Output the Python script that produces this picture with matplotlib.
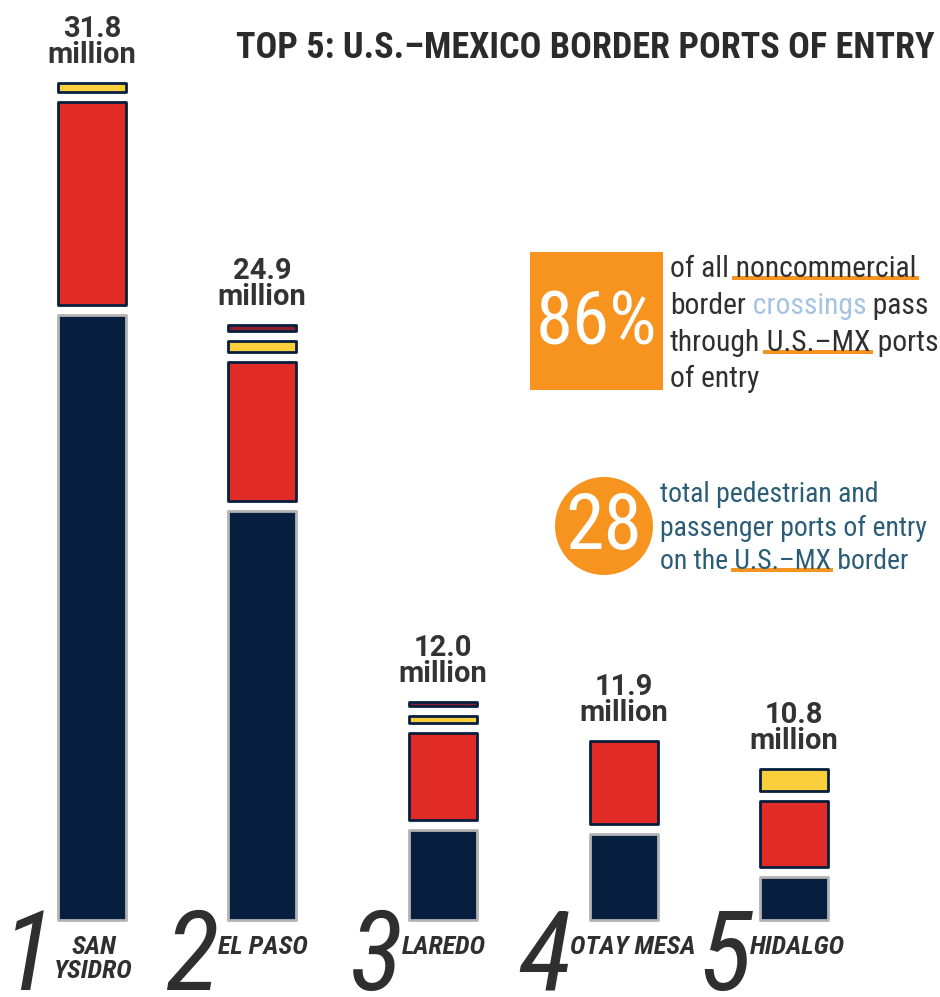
import matplotlib
matplotlib.use("Agg")
import matplotlib.pyplot as plt
from matplotlib.patches import Rectangle, Circle

# top 5 ports, values in millions (segments)
ports = ["SAN\nYSIDRO", "EL PASO", "LAREDO", "OTAY MESA", "HIDALGO"]
ranks = ["1", "2", "3", "4", "5"]
totals = ["31.8", "24.9", "12.0", "11.9", "10.8"]
vehicle = [22.9, 15.5, 3.4, 3.26, 1.63]
pedestrian = [7.7, 5.27, 3.3, 3.15, 2.5]
bus = [0.34, 0.42, 0.27, 0.0, 0.83]
train = [0.0, 0.22, 0.16, 0.0, 0.0]

# layout: bar centres and rank digit centres in pixels
xpos = [92, 262, 442.5, 624, 794]
rank_x = [29, 193, 377, 545, 725]

NAVY = "#071f3e"
RED = "#e02b27"
YELLOW = "#f9cf3b"
DARKRED = "#8e1d2e"
ORANGE = "#f7941f"
DARK = "#2f2f2f"
TEAL = "#2b5e76"
LIGHTBLUE = "#a6c3e2"
NARROW = ["Liberation Sans Narrow", "Roboto Condensed", "Open Sans Condensed",
          "DejaVu Sans Condensed", "Roboto", "DejaVu Sans"]

PX = 26.4          # pixels per million on the y axis
GAP = 10 / PX      # gap between stacked pieces

fig = plt.figure(figsize=(9.4, 9.97), dpi=100)
ax = fig.add_axes([0, 0, 1, 1])
ax.set_xlim(0, 940)
ax.set_ylim(-77 / PX, 920 / PX)
ax.axis("off")

# overlay in pixel coordinates for the callouts
ov = fig.add_axes([0, 0, 1, 1])
ov.set_xlim(0, 940)
ov.set_ylim(997, 0)
ov.axis("off")

series = [(vehicle, NAVY, "#b3b3b3"), (pedestrian, RED, NAVY),
          (bus, YELLOW, NAVY), (train, DARKRED, NAVY)]

for i in range(len(ports)):
    x = xpos[i]
    bottom = 0
    for vals, fc, ec in series:
        v = vals[i]
        if v <= 0:
            continue
        ax.bar(x, v, bottom=bottom, width=68, color=fc, edgecolor=ec,
               linewidth=2.0, joinstyle="round")
        bottom += v + GAP
    top = bottom - GAP
    ax.text(x, top + 14 / PX, totals[i] + "\nmillion", ha="center", va="bottom",
            fontsize=21, fontweight="bold", family="Roboto", color="#333333",
            linespacing=0.9)

    d = ax.text(rank_x[i], -70 / PX, ranks[i], ha="center", va="baseline",
                fontsize=80, style="italic", family=NARROW, color=DARK)
    ax.annotate(ports[i], xy=(1, -15 / PX), xycoords=(d, "data"),
                xytext=(-1, 0), textcoords="offset points",
                ha="left", va="top", multialignment="center",
                fontsize=19, fontweight="bold", style="italic",
                family=NARROW, color=DARK, linespacing=1.0)

ov.text(935, 58, "TOP 5: U.S.\u2013MEXICO BORDER PORTS OF ENTRY", ha="right",
        va="baseline", fontsize=26, fontweight="bold", family=NARROW, color="#2b2b2b")

# 86% callout
ov.add_patch(Rectangle((530, 252), 133, 138, color=ORANGE, lw=0))
ov.text(597, 324, "86%", ha="center", va="center", color="white",
        fontsize=54, family=NARROW)

# 28 callout
ov.add_patch(Circle((604, 526), 49, color=ORANGE, lw=0))
ov.text(604, 527, "28", ha="center", va="center", color="white",
        fontsize=56, family=NARROW)

underlined = []


def text_line(x, y, pieces, size, default):
    prev = None
    for s, col, ul in pieces:
        col = col or default
        if prev is None:
            t = ov.text(x, y, s, ha="left", va="baseline", fontsize=size,
                        family=NARROW, color=col, zorder=3)
        else:
            t = ov.annotate(s, xy=(1, 0), xycoords=prev, ha="left", va="bottom",
                            fontsize=size, family=NARROW, color=col, zorder=3)
        if ul:
            underlined.append(t)
        prev = t


text_line(670, 277, [("of all", None, False), (" noncommercial", None, True)], 21.3, DARK)
text_line(670, 314, [("border", None, False), (" crossings", LIGHTBLUE, False),
                     (" pass", None, False)], 21.3, DARK)
text_line(670, 351, [("through", None, False), (" U.S.\u2013MX", None, True),
                     (" ports", None, False)], 21.3, DARK)
text_line(670, 387, [("of entry", None, False)], 21.3, DARK)

text_line(660, 502, [("total pedestrian and", None, False)], 20, TEAL)
text_line(660, 536, [("passenger ports of entry", None, False)], 20, TEAL)
text_line(660, 569, [("on the", None, False), (" U.S.\u2013MX", None, True),
                     (" border", None, False)], 20, TEAL)

fig.canvas.draw()
inv = ov.transData.inverted()
for t in underlined:
    bb = t.get_window_extent()
    (x0, y0), (x1, y1) = inv.transform([(bb.x0, bb.y0), (bb.x1, bb.y1)])
    base = y0 - (y0 - y1) * 0.22
    ov.add_patch(Rectangle((x0 + 3, base - 1), x1 - x0 - 1, 4, color=ORANGE,
                           lw=0, zorder=2))

fig.savefig("out.png", dpi=100)
